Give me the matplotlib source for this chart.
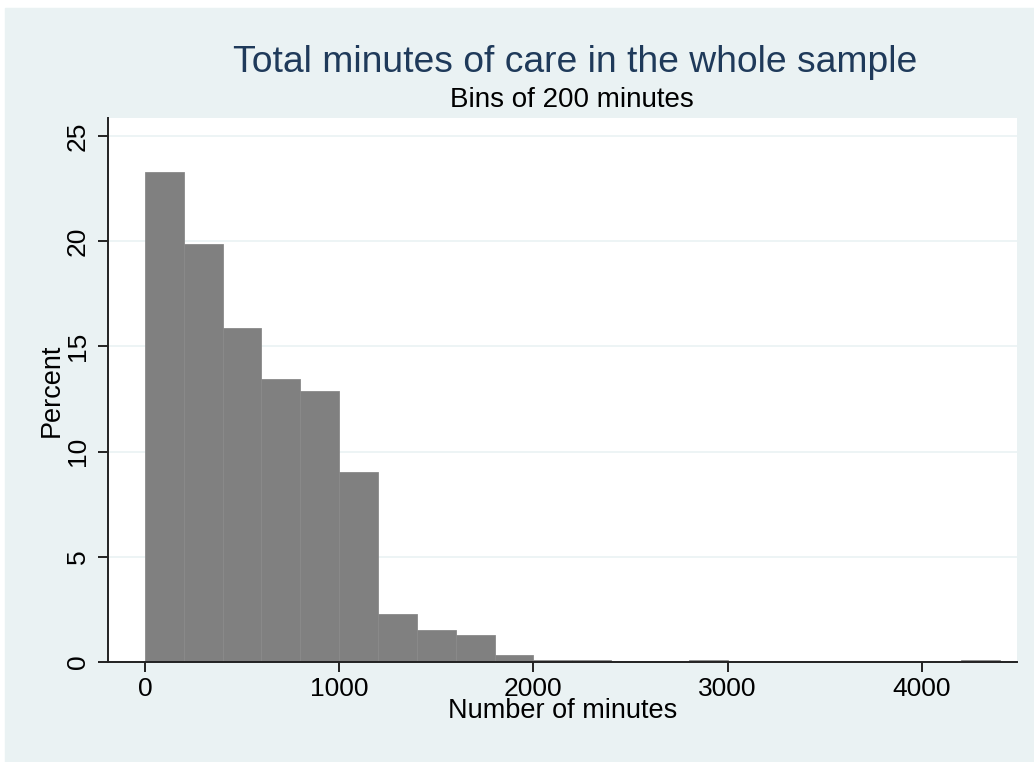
import matplotlib
matplotlib.use('Agg')
import matplotlib.pyplot as plt
import numpy as np
from matplotlib.patches import Rectangle

plt.rcParams['font.family'] = ['Liberation Sans', 'DejaVu Sans']

bin_width = 200
bin_left = np.arange(0, 4400, bin_width)
percent = [23.27, 19.85, 15.87, 13.45, 12.9, 9.03, 2.28, 1.5, 1.3, 0.35, 0.1,
           0.1, 0, 0, 0.1, 0, 0, 0, 0, 0, 0, 0.1]
x_ticks = [0, 1000, 2000, 3000, 4000]
y_ticks = [0, 5, 10, 15, 20, 25]

bg = '#eaf2f3'
fig = plt.figure(figsize=(10.34, 7.62), dpi=100)
fig.patches.append(Rectangle((5 / 1034, -0.01), 1.0, 1 - 8 / 762 + 0.01,
                             transform=fig.transFigure, color=bg, zorder=-10))

ax = fig.add_axes([108 / 1034, 1 - 662 / 762, 909 / 1034, 544 / 762])
ax.set_facecolor('white')
ax.bar(bin_left, percent, width=bin_width, align='edge',
       color='#808080', edgecolor='#8a8a8a', linewidth=0.6, zorder=3)

ax.set_xlim(-190, 4490)
ax.set_ylim(0, 25.86)
ax.set_xticks(x_ticks)
ax.set_yticks(y_ticks)
ax.set_yticklabels([str(t) for t in y_ticks], rotation=90, va='center')
ax.grid(axis='y', color=bg, linewidth=1.2, zorder=0)
for s in ['top', 'right']:
    ax.spines[s].set_visible(False)
for s in ['left', 'bottom']:
    ax.spines[s].set_color('#222222')
    ax.spines[s].set_linewidth(1.4)
    ax.spines[s].set_zorder(5)
ax.tick_params(length=7.2, width=1.4, color='#222222', labelsize=19)
ax.tick_params(axis='x', pad=3.6)
ax.tick_params(axis='y', pad=6)

ax.set_xlabel('Number of minutes', fontsize=19.5, labelpad=-2)
ax.set_ylabel('Percent', fontsize=19.5, labelpad=1)

fig.text(575 / 1034, 1 - 62 / 762, 'Total minutes of care in the whole sample',
         ha='center', va='center', fontsize=26.8, color='#1f3a5a')
fig.text(572 / 1034, 1 - 100 / 762, 'Bins of 200 minutes',
         ha='center', va='center', fontsize=20, color='black')

fig.savefig('out.png', dpi=100)
